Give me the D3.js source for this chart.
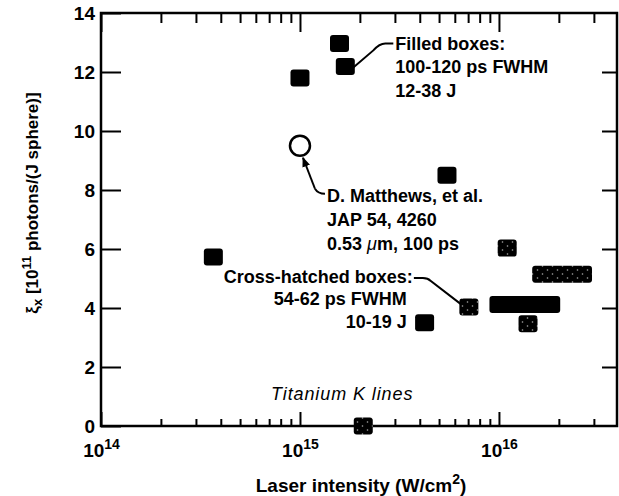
<!DOCTYPE html>
<html>
<head>
<meta charset="utf-8">
<script src="https://cdn.jsdelivr.net/npm/d3@7"></script>
<style>
  body { margin: 0; background: #fff; }
  svg text { font-family: "Liberation Sans", Arial, sans-serif; fill: #000; }
</style>
</head>
<body>
<div id="chart"></div>
<script>
// filled boxes (100-120 ps). lo/hi = intensity range, y = yield
const filledLo = [3.67e14, 1.0e15, 1.58e15, 1.69e15, 5.48e15, 4.23e15, 1.0e16]
const filledHi = [3.67e14, 1.0e15, 1.58e15, 1.69e15, 5.48e15, 4.23e15, 1.82e16]
const filledY  = [5.73, 11.8, 12.97, 12.19, 8.5, 3.5, 4.12]

// cross-hatched boxes (54-62 ps)
const hatchLo = [2.08e15, 7.06e15, 1.4e16, 1.1e16, 1.64e16]
const hatchHi = [2.08e15, 7.06e15, 1.4e16, 1.1e16, 2.63e16]
const hatchY  = [0, 4.03, 3.47, 6.03, 5.14]

// D. Matthews reference point
const matthewsX = [1.0e15]
const matthewsY = [9.5]

const yTicks = [0, 2, 4, 6, 8, 10, 12, 14]
const xMajor = [1e14, 1e15, 1e16]
const xExp = ["14", "15", "16"]

const width = 619
const height = 496
const margin = { top: 13, right: 2, bottom: 70, left: 101 }

const svg = d3.select("#chart")
  .append("svg")
    .attr("width", width)
    .attr("height", height)

const x = d3.scaleLog()
  .domain([1e14, 3.92e16])
  .range([margin.left, width - margin.right])

const y = d3.scaleLinear()
  .domain([0, 14])
  .range([height - margin.bottom, margin.top])

// dotted "cross-hatch" fill
const pat = svg.append("defs").append("pattern")
  .attr("id", "hatch")
  .attr("patternUnits", "userSpaceOnUse")
  .attr("width", 10).attr("height", 8)
pat.append("rect").attr("width", 10).attr("height", 8).attr("fill", "#000")
pat.append("circle").attr("cx", 2.5).attr("cy", 2).attr("r", 0.8).attr("fill", "#aaa")
pat.append("circle").attr("cx", 7.5).attr("cy", 6).attr("r", 0.8).attr("fill", "#aaa")

svg.select("defs").append("marker")
  .attr("id", "arrow")
  .attr("viewBox", "0 0 10 10")
  .attr("refX", 9).attr("refY", 5)
  .attr("markerWidth", 5).attr("markerHeight", 5)
  .attr("orient", "auto")
  .append("path")
    .attr("d", "M0,1 L10,5 L0,9 Z")

// minor log ticks (everything that is not a power of ten)
const xMinor = x.ticks().filter(v => Math.abs(Math.log10(v) % 1) > 1e-6)

const fontSize = 19

// left axis
svg.append("g")
  .attr("transform", `translate(${margin.left},0)`)
  .call(d3.axisLeft(y).tickValues(yTicks).tickSize(-20).tickPadding(6).tickFormat(d3.format("d")))
  .call(g => g.select(".domain").remove())
  .call(g => g.selectAll(".tick line").attr("stroke-width", 2))
  .call(g => g.selectAll("text").attr("font-size", fontSize).attr("font-weight", "bold").attr("font-family", "Liberation Sans, Arial, sans-serif"))

// right axis
svg.append("g")
  .attr("transform", `translate(${width - margin.right},0)`)
  .call(d3.axisRight(y).tickValues(yTicks.slice(1, -1)).tickSize(-15).tickFormat(""))
  .call(g => g.select(".domain").remove())
  .call(g => g.selectAll(".tick line").attr("stroke-width", 2))

// bottom axis
const bottom = height - margin.bottom
svg.append("g")
  .attr("transform", `translate(0,${bottom})`)
  .call(d3.axisBottom(x).tickValues(xMinor).tickSize(-7).tickFormat(""))
  .call(g => g.select(".domain").remove())
  .call(g => g.selectAll(".tick line").attr("stroke-width", 2))
const bx = svg.append("g")
  .attr("transform", `translate(0,${bottom})`)
  .call(d3.axisBottom(x).tickValues(xMajor).tickSize(-14).tickPadding(18).tickFormat(""))
  .call(g => g.select(".domain").remove())
  .call(g => g.selectAll(".tick line").attr("stroke-width", 2))
bx.selectAll(".tick text")
  .attr("font-size", fontSize)
  .attr("font-weight", "bold")
  .attr("dy", "0.71em")
  .each(function(d, i) {
    const t = d3.select(this)
    t.append("tspan").text("10")
    t.append("tspan").attr("font-size", 14).attr("dy", "-0.6em").text(xExp[i])
  })

// top axis
svg.append("g")
  .attr("transform", `translate(0,${margin.top})`)
  .call(d3.axisTop(x).tickValues(xMinor).tickSize(-10).tickFormat(""))
  .call(g => g.select(".domain").remove())
  .call(g => g.selectAll(".tick line").attr("stroke-width", 2))
svg.append("g")
  .attr("transform", `translate(0,${margin.top})`)
  .call(d3.axisTop(x).tickValues(xMajor).tickSize(-19).tickFormat(""))
  .call(g => g.select(".domain").remove())
  .call(g => g.selectAll(".tick line").attr("stroke-width", 2))

// frame
svg.append("rect")
  .attr("x", x.range()[0])
  .attr("y", y.range()[1])
  .attr("width", x.range()[1] - x.range()[0])
  .attr("height", y.range()[0] - y.range()[1])
  .attr("fill", "none")
  .attr("stroke", "#000")
  .attr("stroke-width", 2.5)

// boxes
const halfW = 9.5, halfH = 8.5
function drawBoxes(lo, hi, ys, fill) {
  svg.append("g")
    .selectAll("rect")
    .data(ys.map((v, i) => ({ lo: lo[i], hi: hi[i], y: v })))
    .join("rect")
      .attr("x", d => x(d.lo) - halfW)
      .attr("y", d => y(d.y) - halfH)
      .attr("width", d => x(d.hi) - x(d.lo) + 2 * halfW)
      .attr("height", 2 * halfH)
      .attr("rx", 3)
      .attr("fill", fill)
}
drawBoxes(filledLo, filledHi, filledY, "#000")
drawBoxes(hatchLo, hatchHi, hatchY, "url(#hatch)")

svg.append("g")
  .selectAll("circle")
  .data(matthewsY.map((v, i) => ({ x: matthewsX[i], y: v })))
  .join("circle")
    .attr("cx", d => x(d.x))
    .attr("cy", d => y(d.y))
    .attr("r", 10)
    .attr("fill", "#fff")
    .attr("stroke", "#000")
    .attr("stroke-width", 2.5)

// annotations
function label(tx, ty, lines, anchor, lineGap) {
  const t = svg.append("text")
    .attr("font-size", 18)
    .attr("font-weight", "bold")
    .attr("text-anchor", anchor || "start")
  lines.forEach((s, i) => {
    t.append("tspan").attr("x", tx).attr("y", ty + i * lineGap).text(s)
  })
  return t
}

// filled boxes callout
const fx = x(filledLo[3]), fy = y(filledY[3])
svg.append("path")
  .attr("d", `M${fx + 8},${fy + 1} L${fx + 28},${fy - 16} Q${fx + 34},${fy - 23} ${fx + 40},${fy - 23} L${fx + 48},${fy - 23}`)
  .attr("fill", "none").attr("stroke", "#000").attr("stroke-width", 2)
label(fx + 50, fy - 16.5, ["Filled boxes:", "100-120 ps FWHM", "12-38 J"], "start", 23.5)

// Matthews callout
const mx = x(matthewsX[0]), my = y(matthewsY[0])
svg.append("path")
  .attr("d", `M${mx + 15},${my + 43} L${mx + 3},${my + 12}`)
  .attr("fill", "none").attr("stroke", "#000").attr("stroke-width", 2)
  .attr("marker-end", "url(#arrow)")
svg.append("path")
  .attr("d", `M${mx + 15},${my + 43} Q${mx + 18},${my + 48} ${mx + 25},${my + 48}`)
  .attr("fill", "none").attr("stroke", "#000").attr("stroke-width", 2)
label(mx + 27, my + 56, ["D. Matthews, et al.", "JAP 54, 4260"], "start", 24)
const m3 = svg.append("text")
  .attr("x", mx + 27).attr("y", my + 104)
  .attr("font-size", 18).attr("font-weight", "bold")
m3.append("tspan").text("0.53 ")
m3.append("tspan").attr("font-style", "italic").attr("font-weight", "normal").text("μ")
m3.append("tspan").text("m, 100 ps")

// cross-hatched callout
const hx = x(hatchLo[1]), hy = y(hatchY[1])
svg.append("path")
  .attr("d", `M${hx - 8},${hy - 3} L${hx - 38},${hy - 26} Q${hx - 41},${hy - 29} ${hx - 46},${hy - 29} L${hx - 55},${hy - 29}`)
  .attr("fill", "none").attr("stroke", "#000").attr("stroke-width", 2)
label(hx - 56, hy - 24, ["Cross-hatched boxes:"], "end", 0)
label(hx - 62, hy - 2, ["54-62 ps FWHM", "10-19 J"], "end", 23)

// panel caption
svg.append("text")
  .attr("x", 271).attr("y", 400)
  .attr("font-size", 18)
  .attr("font-style", "italic")
  .attr("letter-spacing", 0.9)
  .text("Titanium K lines")

// axis titles
const xt = svg.append("text")
  .attr("x", 361).attr("y", 492)
  .attr("text-anchor", "middle")
  .attr("font-size", 19).attr("font-weight", "bold")
xt.append("tspan").text("Laser intensity (W/cm")
xt.append("tspan").attr("font-size", 14).attr("dy", -8).text("2")
xt.append("tspan").attr("dy", 8).text(")")

const yt = svg.append("text")
  .attr("transform", "translate(38,203) rotate(-90)")
  .attr("text-anchor", "middle")
  .attr("font-size", 17).attr("font-weight", "bold")
yt.append("tspan").text("ξ")
yt.append("tspan").attr("font-size", 13).attr("dy", 4).text("x")
yt.append("tspan").attr("dy", -4).text(" [10")
yt.append("tspan").attr("font-size", 13).attr("dy", -7).text("11")
yt.append("tspan").attr("dy", 7).text(" photons/(J sphere)]")
</script>
</body>
</html>
